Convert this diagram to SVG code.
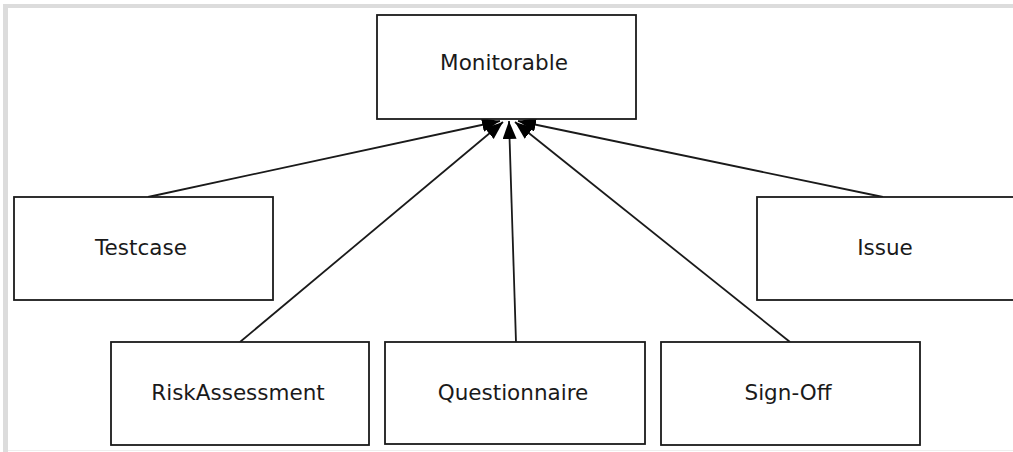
<svg xmlns="http://www.w3.org/2000/svg" width="1013" height="452" viewBox="0 0 1013 452">
<style>
.box{fill:#ffffff;stroke:#1a1a1a;stroke-width:1.8}
.lbl{font-family:"DejaVu Sans","Verdana",sans-serif;font-size:21.5px;fill:#1a1a1a;text-anchor:middle}
.edge{stroke:#1a1a1a;stroke-width:1.8;fill:none;marker-end:url(#arr)}
</style>
<defs>
<marker id="arr" markerUnits="userSpaceOnUse" markerWidth="20" markerHeight="16" refX="18" refY="7" orient="auto">
<path d="M0,0 L18,7 L0,14 z" fill="#000000"/>
</marker>
</defs>
<rect x="0" y="0" width="1013" height="452" fill="#ffffff"/>
<rect x="3" y="4" width="5" height="448" fill="#dcdcdc"/>
<rect x="3" y="4" width="1010" height="4" fill="#dcdcdc"/>
<rect x="8" y="450" width="1005" height="1" fill="#eeeeee"/>
<g id="connectors">
<line class="edge" x1="148" y1="197" x2="500" y2="121"/>
<line class="edge" x1="240" y1="342" x2="503" y2="122"/>
<line class="edge" x1="516" y1="342" x2="509" y2="121"/>
<line class="edge" x1="790" y1="342" x2="515" y2="122"/>
<line class="edge" x1="883" y1="197" x2="518" y2="121"/>
</g>
<g id="monitorable"><rect class="box" x="377" y="15" width="259" height="104"/><text class="lbl" x="504" y="70">Monitorable</text></g>
<g id="testcase"><rect class="box" x="14" y="197" width="259" height="103"/><text class="lbl" x="141" y="255">Testcase</text></g>
<g id="issue"><rect class="box" x="757" y="197" width="259" height="103"/><text class="lbl" x="885" y="255">Issue</text></g>
<g id="riskassessment"><rect class="box" x="111" y="342" width="258" height="103"/><text class="lbl" x="238" y="400">RiskAssessment</text></g>
<g id="questionnaire"><rect class="box" x="385" y="342" width="260" height="102"/><text class="lbl" x="513" y="400">Questionnaire</text></g>
<g id="signoff"><rect class="box" x="661" y="342" width="259" height="103"/><text class="lbl" x="788" y="400">Sign-Off</text></g>
</svg>
